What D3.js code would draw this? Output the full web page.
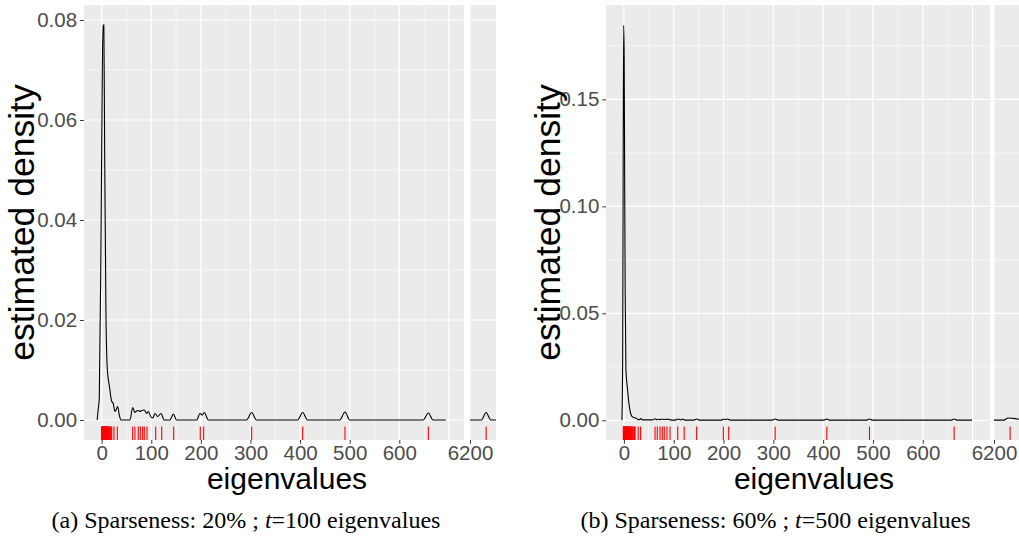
<!DOCTYPE html>
<html>
<head>
<meta charset="utf-8">
<script src="https://cdn.jsdelivr.net/npm/d3@7"></script>
<style>
  body { margin: 0; background: #fff; }
  svg text { font-family: "Liberation Sans", Arial, sans-serif; }
</style>
</head>
<body>
<div id="chart-area"></div>
<script>
// eigenvalues shown as the red rug, one list per sparseness setting
const rugA = [0, 0.4, 0.8, 1.1, 1.5, 1.9, 2.2, 2.6, 3.0, 3.3, 3.7, 4.1, 4.5, 4.9, 5.3, 5.7, 6.1, 6.5,
  7.0, 7.4, 7.9, 8.4, 8.9, 9.5, 10.1, 10.8, 11.5, 12.3, 13.1, 14.0, 15.0, 16.2, 17.5, 19.0, 20.2,
  24.8, 31.5, 62.5, 67.1, 73.8, 77.9, 82.6, 85.9, 91.3, 108.9, 121, 145.2, 198.8, 205.6,
  302.4, 405.2, 490.5, 658.5];
const rugABreak = [6231];

const rugB = [-1.2, -0.8, -0.4, 0, 0.4, 0.8, 1.2, 1.6, 2.0, 2.4, 2.8, 3.2, 3.6, 4.0, 4.5, 5.0, 5.5,
  6.0, 6.5, 7.0, 7.6, 8.2, 8.8, 9.4, 10.1, 10.8, 11.6, 12.5, 13.4, 14.4, 15.5, 16.8, 18.2, 19.8, 21.5,
  22.3, 28.7, 33.5, 62.5, 67, 72.5, 77, 81, 86.4, 92.5, 108, 121, 146, 199.6, 210.4,
  303.6, 407.4, 493, 663];
const rugBBreak = [6231];

// estimated density curves
const densAx = [-9, -7.5, -4.8, -1.4, 0.6, 2.6, 4.4, 6, 8.7, 11.5, 16, 20, 23.4, 26.8, 29.5, 32.2, 35.5, 38.9,
  57, 62.5, 67, 70.5, 73.8, 77, 80.6, 85.9, 90.7, 94, 99.4, 103, 107.5, 112.9, 119.6, 126,
  137.7, 144.4, 151, 191.5, 198.2, 202.8, 206.9, 215, 292, 302.4, 312, 395, 405.2, 415,
  480, 490.5, 500, 648, 658.5, 668, 694];
const densAy = [0, 0.0017, 0.0044, 0.0344, 0.061, 0.079, 0.079, 0.0544, 0.021, 0.01, 0.0065, 0.0038, 0.0033, 0.0017, 0.0021, 0.0027, 0.001, 0,
  0, 0.0025, 0.0015, 0.0018, 0.0019, 0.0017, 0.0019, 0.002, 0.0013, 0.0017, 0.0006, 0.0004, 0.0013, 0.0007, 0.0013, 0,
  0, 0.0012, 0, 0, 0.0013, 0.001, 0.0015, 0, 0, 0.0015, 0, 0, 0.0015, 0,
  0, 0.0016, 0, 0, 0.0014, 0, 0];
const densABreakX = [6200, 6222, 6231, 6240, 6250];
const densABreakY = [0, 0, 0.0015, 0, 0];

const densBx = [-4, -2.5, -1.5, -0.5, 0.5, 1.5, 2.5, 4, 7.4, 10, 13.4, 16.6, 25, 28.6, 31, 34, 37,
  58, 62.5, 66, 70, 73, 77, 80, 83, 87, 90, 93, 100, 105, 109, 114, 118, 121, 125,
  141, 146, 151, 196, 201, 204, 208, 213, 298, 303.6, 309, 402, 407.4, 412,
  488, 493, 498, 658, 663, 668, 699];
const densBy = [0, 0.03, 0.12, 0.1846, 0.17, 0.11, 0.06, 0.0235, 0.0142, 0.0079, 0.0033, 0.0017, 0.0009, 0.0003, 0.0003, 0.0008, 0.0002,
  0.0002, 0.0007, 0.0003, 0.0005, 0.0003, 0.0006, 0.0003, 0.0005, 0.0004, 0.0006, 0.0002, 0.0001, 0.0002, 0.0006, 0.0002, 0.0006, 0.0002, 0.0001,
  0.0001, 0.0006, 0.0001, 0.0001, 0.0006, 0.0003, 0.0006, 0.0001, 0.0001, 0.0006, 0.0001, 0.0001, 0.0006, 0.0001,
  0.0001, 0.0006, 0.0001, 0.0001, 0.0006, 0.0001, 0.0001];
const densBBreakX = [6200, 6219, 6227, 6236.5, 6250];
const densBBreakY = [0.0001, 0.0001, 0.0011, 0.0009, 0.0004];

// tick labels
const xTicks = [0, 100, 200, 300, 400, 500, 600];
const xGridMajor = [0, 100, 200, 300, 400, 500, 600, 700];
const xGridMinor = [50, 150, 250, 350, 450, 550, 650];
const breakTicks = [6200];
const yTicksA = [0, 0.02, 0.04, 0.06, 0.08];
const yMinorA = [0.01, 0.03, 0.05, 0.07];
const yTicksB = [0, 0.05, 0.10, 0.15];
const yMinorB = [0.025, 0.075, 0.125, 0.175];

const svg = d3.select('#chart-area')
  .append('svg')
  .attr('width', 1019)
  .attr('height', 536);

const panelTop = 5;
const panelBottom = 440;

function drawFigure(f) {
  const g = svg.append('g');

  const x = d3.scaleLinear().domain([-36, f.xMax]).range([f.left, f.mainRight]);
  const xb = d3.scaleLinear().domain([6200, 6250]).range([f.breakLeft, f.breakLeft + 26]);
  const y = d3.scaleLinear().domain(f.yDomain).range([panelBottom, panelTop]);

  const panels = [
    { id: f.id + 'main', x0: f.left, x1: f.mainRight, sx: x },
    { id: f.id + 'brk', x0: f.breakLeft, x1: f.breakLeft + 26, sx: xb }
  ];

  panels.forEach((p) => {
    svg.append('clipPath').attr('id', p.id)
      .append('rect')
      .attr('x', p.x0).attr('y', panelTop)
      .attr('width', p.x1 - p.x0).attr('height', panelBottom - panelTop);

    const pg = g.append('g').attr('clip-path', 'url(#' + p.id + ')');

    pg.append('rect')
      .attr('x', p.x0).attr('y', panelTop)
      .attr('width', p.x1 - p.x0).attr('height', panelBottom - panelTop)
      .attr('fill', '#ebebeb');

    // horizontal grid
    pg.selectAll('.hmin').data(f.yMinor).enter().append('line')
      .attr('x1', p.x0).attr('x2', p.x1)
      .attr('y1', (d) => y(d)).attr('y2', (d) => y(d))
      .attr('stroke', '#fff').attr('stroke-width', 0.6);
    pg.selectAll('.hmaj').data(f.yTicks).enter().append('line')
      .attr('x1', p.x0).attr('x2', p.x1)
      .attr('y1', (d) => y(d)).attr('y2', (d) => y(d))
      .attr('stroke', '#fff').attr('stroke-width', 1.2);

    // vertical grid
    const isMain = p.sx === x;
    const vMinor = isMain ? xGridMinor : [];
    const vMajor = isMain ? xGridMajor : breakTicks;
    pg.selectAll('.vmin').data(vMinor).enter().append('line')
      .attr('x1', (d) => p.sx(d)).attr('x2', (d) => p.sx(d))
      .attr('y1', panelTop).attr('y2', panelBottom)
      .attr('stroke', '#fff').attr('stroke-width', 0.6);
    pg.selectAll('.vmaj').data(vMajor).enter().append('line')
      .attr('x1', (d) => p.sx(d)).attr('x2', (d) => p.sx(d))
      .attr('y1', panelTop).attr('y2', panelBottom)
      .attr('stroke', '#fff').attr('stroke-width', 1.2);

    // density curve
    const xs = isMain ? f.densX : f.densBreakX;
    const ys = isMain ? f.densY : f.densBreakY;
    const line = d3.line()
      .x((d, i) => p.sx(xs[i]))
      .y((d, i) => y(ys[i]))
      .curve(d3.curveMonotoneX);
    pg.append('path')
      .attr('d', line(xs))
      .attr('fill', 'none')
      .attr('stroke', '#000')
      .attr('stroke-width', 1.1);

    // rug
    const rug = isMain ? f.rug : f.rugBreak;
    pg.selectAll('.rug').data(rug).enter().append('line')
      .attr('x1', (d) => p.sx(d)).attr('x2', (d) => p.sx(d))
      .attr('y1', panelBottom - 13.5).attr('y2', panelBottom)
      .attr('stroke', '#ff0000').attr('stroke-width', 1.1);
  });

  // y axis
  const yAxis = g.append('g')
    .attr('transform', 'translate(' + f.left + ',0)')
    .call(d3.axisLeft(y).tickValues(f.yTicks).tickFormat(d3.format('.2f')).tickSize(3.7).tickPadding(3));

  // x axes
  const xAxis = g.append('g')
    .attr('transform', 'translate(0,' + panelBottom + ')')
    .call(d3.axisBottom(x).tickValues(xTicks).tickSize(3.7).tickPadding(1.5));
  const xbAxis = g.append('g')
    .attr('transform', 'translate(0,' + panelBottom + ')')
    .call(d3.axisBottom(xb).tickValues(breakTicks).tickFormat(d3.format('d')).tickSize(3.7).tickPadding(1.5));

  [yAxis, xAxis, xbAxis].forEach((a) => {
    a.select('.domain').remove();
    a.selectAll('line').attr('stroke', '#333').attr('stroke-width', 1);
    a.selectAll('text')
      .attr('fill', '#4d4d4d')
      .style('font-size', '20.5px');
  });

  g.append('text')
    .attr('transform', 'translate(' + f.yTitleX + ',' + ((panelTop + panelBottom) / 2) + ') rotate(-90)')
    .attr('text-anchor', 'middle')
    .style('font-size', '35.5px')
    .text('estimated density');

  g.append('text')
    .attr('x', f.xTitleX)
    .attr('y', 489)
    .attr('text-anchor', 'middle')
    .style('font-size', '30px')
    .text('eigenvalues');

  const cap = g.append('text')
    .attr('x', f.capX)
    .attr('y', 528)
    .attr('text-anchor', 'middle')
    .style('font-family', '"Liberation Serif", "Times New Roman", serif')
    .style('font-size', '24px');
  cap.append('tspan').text(f.capStart);
  cap.append('tspan').style('font-style', 'italic').text('t');
  cap.append('tspan').text(f.capEnd);
}

drawFigure({
  id: 'a',
  left: 83.8, mainRight: 464.3, breakLeft: 470, xMax: 731,
  yDomain: [-0.004, 0.083],
  yTicks: yTicksA, yMinor: yMinorA,
  densX: densAx, densY: densAy, densBreakX: densABreakX, densBreakY: densABreakY,
  rug: rugA, rugBreak: rugABreak,
  yTitleX: 34, xTitleX: 287,
  capX: 246, capStart: '(a) Sparseness: 20% ; ', capEnd: '=100 eigenvalues'
});

drawFigure({
  id: 'b',
  left: 606, mainRight: 990, breakLeft: 994, xMax: 735,
  yDomain: [-0.0092, 0.1941],
  yTicks: yTicksB, yMinor: yMinorB,
  densX: densBx, densY: densBy, densBreakX: densBBreakX, densBreakY: densBBreakY,
  rug: rugB, rugBreak: rugBBreak,
  yTitleX: 560, xTitleX: 814,
  capX: 775.5, capStart: '(b) Sparseness: 60% ; ', capEnd: '=500 eigenvalues'
});
</script>
</body>
</html>
